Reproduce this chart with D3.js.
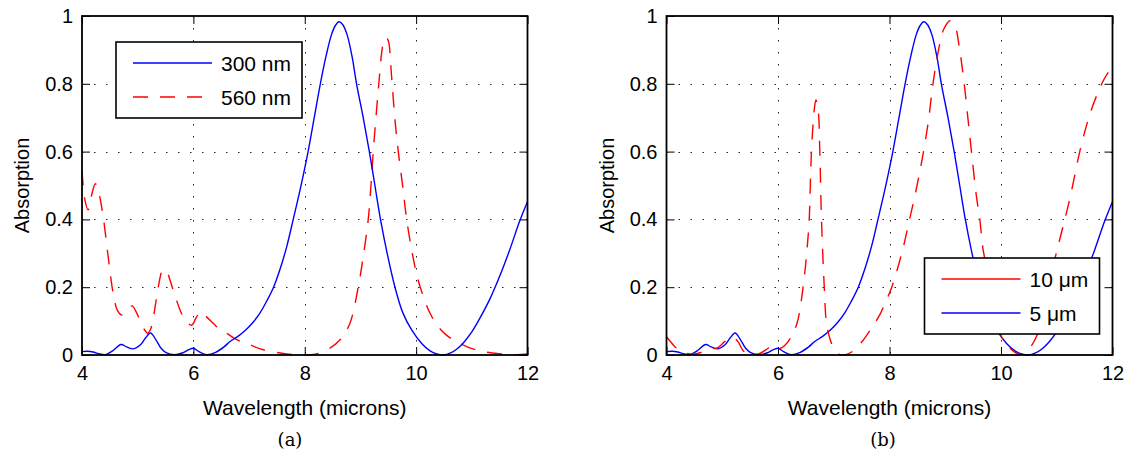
<!DOCTYPE html>
<html>
<head>
<meta charset="utf-8">
<script src="https://cdn.jsdelivr.net/npm/d3@7"></script>
<style>
  body { margin: 0; background: #fff; }
  svg text { font-family: "Liberation Sans", Arial, Helvetica, sans-serif; fill: #000; }
  svg text.caption { font-family: "DejaVu Serif", "Liberation Serif", serif; }
</style>
</head>
<body>
<svg id="fig" width="1127" height="451"></svg>
<script>
// ---- Axis ticks ----
const xTicks = [4, 6, 8, 10, 12];
const xTickLabels = ["4", "6", "8", "10", "12"];
const yTicks = [0, 0.2, 0.4, 0.6, 0.8, 1];
const yTickLabels = ["0", "0.2", "0.4", "0.6", "0.8", "1"];
const xDomain = [4, 12];
const yDomain = [0, 1];

// ---- Panel (a): 300 nm ----
const wl300 = [4.00, 4.10, 4.20, 4.30, 4.42, 4.55, 4.70, 4.80, 4.92, 5.05, 5.14, 5.23, 5.32, 5.42,
  5.52, 5.66, 5.80, 5.92, 6.00, 6.10, 6.24, 6.40, 6.55, 6.66, 6.80, 6.93, 7.08, 7.20, 7.32, 7.44,
  7.56, 7.68, 7.79, 7.92, 8.06, 8.17, 8.28, 8.38, 8.48, 8.55, 8.615, 8.68, 8.76, 8.85, 8.93, 9.05,
  9.16, 9.26, 9.36, 9.48, 9.62, 9.76, 9.92, 10.10, 10.25, 10.37, 10.49, 10.62, 10.75, 10.87, 11.00,
  11.15, 11.33, 11.50, 11.68, 11.86, 12.00];
const abs300 = [0.010, 0.011, 0.009, 0.004, 0.001, 0.012, 0.031, 0.024, 0.018, 0.030, 0.050, 0.065,
  0.047, 0.020, 0.006, 0.001, 0.006, 0.016, 0.020, 0.010, 0.001, 0.008, 0.024, 0.040, 0.055, 0.072,
  0.098, 0.125, 0.160, 0.200, 0.255, 0.322, 0.398, 0.490, 0.600, 0.700, 0.800, 0.880, 0.945, 0.972,
  0.983, 0.975, 0.945, 0.880, 0.800, 0.700, 0.600, 0.500, 0.400, 0.300, 0.200, 0.125, 0.074, 0.034,
  0.012, 0.003, 0.000, 0.006, 0.020, 0.040, 0.068, 0.110, 0.167, 0.232, 0.310, 0.395, 0.452];

// ---- Panel (a): 560 nm ----
const wl560 = [4.00, 4.05, 4.11, 4.17, 4.24, 4.30, 4.38, 4.47, 4.56, 4.64, 4.71, 4.80, 4.90, 4.97,
  5.04, 5.12, 5.18, 5.23, 5.28, 5.33, 5.38, 5.43, 5.47, 5.52, 5.58, 5.67, 5.76, 5.86, 5.97, 6.05,
  6.13, 6.22, 6.36, 6.48, 6.60, 6.78, 6.96, 7.20, 7.56, 7.80, 8.05, 8.25, 8.45, 8.63, 8.81, 8.96,
  9.05, 9.14, 9.20, 9.23, 9.29, 9.33, 9.38, 9.42, 9.46, 9.50, 9.56, 9.62, 9.68, 9.76, 9.83, 9.92,
  10.02, 10.13, 10.25, 10.40, 10.55, 10.73, 10.95, 11.21, 11.50, 11.81, 12.00];
const abs560 = [0.545, 0.460, 0.428, 0.470, 0.505, 0.480, 0.408, 0.290, 0.182, 0.130, 0.118, 0.128,
  0.145, 0.128, 0.103, 0.075, 0.064, 0.075, 0.110, 0.160, 0.210, 0.245, 0.253, 0.248, 0.221, 0.175,
  0.133, 0.100, 0.088, 0.110, 0.128, 0.115, 0.093, 0.075, 0.064, 0.045, 0.034, 0.018, 0.006, 0.001,
  0.000, 0.005, 0.020, 0.044, 0.093, 0.200, 0.290, 0.400, 0.526, 0.600, 0.723, 0.800, 0.890, 0.927,
  0.937, 0.927, 0.820, 0.693, 0.600, 0.496, 0.400, 0.310, 0.231, 0.172, 0.123, 0.083, 0.058, 0.039,
  0.022, 0.010, 0.004, 0.001, 0.003];

// ---- Panel (b): 10 µm and 5 µm ----
const wl10um = [4.00, 4.10, 4.18, 4.30, 4.48, 4.66, 4.80, 4.92, 5.05, 5.18, 5.28, 5.38, 5.50, 5.65,
  5.78, 5.88, 5.95, 6.04, 6.12, 6.22, 6.34, 6.45, 6.53, 6.56, 6.60, 6.65, 6.68, 6.72, 6.75, 6.78,
  6.83, 6.87, 6.93, 7.00, 7.10, 7.20, 7.35, 7.53, 7.68, 7.83, 7.94, 8.04, 8.22, 8.36, 8.49, 8.61,
  8.70, 8.78, 8.88, 8.97, 9.085, 9.175, 9.25, 9.34, 9.41, 9.47, 9.56, 9.62, 9.68, 9.74, 9.85, 10.01,
  10.16, 10.34, 10.50, 10.65, 10.80, 10.97, 11.06, 11.24, 11.42, 11.60, 11.78, 11.91, 12.00];
const abs10um = [0.054, 0.034, 0.020, 0.008, 0.002, 0.010, 0.018, 0.022, 0.040, 0.052, 0.040, 0.012,
  0.002, 0.003, 0.015, 0.026, 0.028, 0.020, 0.028, 0.049, 0.093, 0.200, 0.330, 0.400, 0.600, 0.723,
  0.752, 0.723, 0.600, 0.400, 0.200, 0.093, 0.049, 0.020, 0.002, 0.000, 0.012, 0.044, 0.080, 0.120,
  0.160, 0.200, 0.300, 0.400, 0.497, 0.600, 0.693, 0.800, 0.900, 0.960, 0.986, 0.970, 0.910, 0.800,
  0.693, 0.600, 0.467, 0.400, 0.310, 0.260, 0.150, 0.054, 0.020, 0.001, 0.018, 0.060, 0.150, 0.286,
  0.345, 0.465, 0.605, 0.713, 0.790, 0.830, 0.845];
const wl5um = wl300;
const abs5um = abs300;

const BLUE = "#0000ff";
const RED = "#ff0000";
const DASH = "15,12";

const svg = d3.select("#fig");

function drawPanel(cfg) {
  const x = d3.scaleLinear().domain(xDomain).range([cfg.left, cfg.right]);
  const y = d3.scaleLinear().domain(yDomain).range([cfg.bottom, cfg.top]);
  const g = svg.append("g");

  // dotted grid
  const grid = g.append("g").attr("stroke", "#222").attr("stroke-width", 1)
    .attr("stroke-dasharray", "1.5,10.5");
  grid.selectAll("line.vx").data(xTicks.slice(1, -1)).join("line")
    .attr("x1", d => Math.round(x(d)) + 0.5).attr("x2", d => Math.round(x(d)) + 0.5)
    .attr("y1", cfg.top).attr("y2", cfg.bottom);
  grid.selectAll("line.hy").data(yTicks.slice(1, -1)).join("line")
    .attr("x1", cfg.left).attr("x2", cfg.right)
    .attr("y1", d => Math.round(y(d)) + 0.5).attr("y2", d => Math.round(y(d)) + 0.5);

  // axes with inward ticks on all four sides
  const fmtX = d => xTickLabels[xTicks.indexOf(d)];
  const fmtY = d => yTickLabels[yTicks.indexOf(d)];
  g.append("g").attr("transform", `translate(0,${cfg.bottom})`)
    .call(d3.axisBottom(x).tickValues(xTicks).tickFormat(fmtX).tickSizeInner(-8).tickSizeOuter(0).tickPadding(11));
  g.append("g").attr("transform", `translate(${cfg.left},0)`)
    .call(d3.axisLeft(y).tickValues(yTicks).tickFormat(fmtY).tickSizeInner(-8).tickSizeOuter(0).tickPadding(9));
  g.append("g").attr("transform", `translate(0,${cfg.top})`)
    .call(d3.axisTop(x).tickValues(xTicks).tickFormat("").tickSizeInner(-8).tickSizeOuter(0));
  g.append("g").attr("transform", `translate(${cfg.right},0)`)
    .call(d3.axisRight(y).tickValues(yTicks).tickFormat("").tickSizeInner(-8).tickSizeOuter(0));
  g.selectAll(".domain").remove();
  g.selectAll(".tick line").attr("stroke", "#000").attr("stroke-width", 1);
  g.selectAll(".tick text").attr("font-size", 20).attr("font-family", null);

  // curves
  const line = d3.line().x(d => x(d[0])).y(d => y(d[1])).curve(d3.curveCatmullRom.alpha(0.5));
  cfg.series.forEach(s => {
    g.append("path").datum(s.wl.map((w, i) => [w, s.vals[i]]))
      .attr("fill", "none").attr("stroke", s.color).attr("stroke-width", 1.4)
      .attr("stroke-dasharray", s.dash || null)
      .attr("d", line);
  });

  // axes box
  g.append("rect").attr("x", cfg.left).attr("y", cfg.top)
    .attr("width", cfg.right - cfg.left).attr("height", cfg.bottom - cfg.top)
    .attr("fill", "none").attr("stroke", "#000").attr("stroke-width", 1.8);

  // axis titles
  g.append("text").attr("x", (cfg.left + cfg.right) / 2).attr("y", cfg.bottom + 60)
    .attr("text-anchor", "middle").attr("font-size", 21).text("Wavelength (microns)");
  g.append("text")
    .attr("transform", `translate(${cfg.left - 53},${(cfg.top + cfg.bottom) / 2}) rotate(-90)`)
    .attr("text-anchor", "middle").attr("font-size", 20).text("Absorption");

  // legend
  const L = cfg.legend;
  const lg = g.append("g");
  lg.append("rect").attr("x", L.x).attr("y", L.y).attr("width", L.w).attr("height", L.h)
    .attr("fill", "#fff").attr("stroke", "#000").attr("stroke-width", 1.6);
  L.entries.forEach((e, i) => {
    const yy = L.y + 21 + i * 34;
    lg.append("line").attr("x1", L.x + 17).attr("x2", L.x + 96).attr("y1", yy).attr("y2", yy)
      .attr("stroke", e.color).attr("stroke-width", 1.4).attr("stroke-dasharray", e.dash || null);
    lg.append("text").attr("x", L.x + 105).attr("y", yy).attr("dy", "0.36em")
      .attr("font-size", 21).text(e.label);
  });

  // caption
  g.append("text").attr("class", "caption").attr("x", cfg.captionX).attr("y", 446)
    .attr("text-anchor", "middle").attr("font-size", 18).text(cfg.caption);
}

drawPanel({
  left: 82, right: 527.5, top: 16, bottom: 355,
  series: [
    { wl: wl560, vals: abs560, color: RED, dash: DASH },
    { wl: wl300, vals: abs300, color: BLUE }
  ],
  legend: { x: 116, y: 42, w: 186, h: 76, entries: [
    { label: "300 nm", color: BLUE },
    { label: "560 nm", color: RED, dash: DASH }
  ] },
  caption: "(a)", captionX: 290
});

drawPanel({
  left: 666.5, right: 1112.5, top: 16, bottom: 355,
  series: [
    { wl: wl5um, vals: abs5um, color: BLUE },
    { wl: wl10um, vals: abs10um, color: RED, dash: DASH }
  ],
  legend: { x: 924.5, y: 258, w: 175, h: 76, entries: [
    { label: "10 \u03bcm", color: RED },
    { label: "5 \u03bcm", color: BLUE }
  ] },
  caption: "(b)", captionX: 883
});
</script>
</body>
</html>
